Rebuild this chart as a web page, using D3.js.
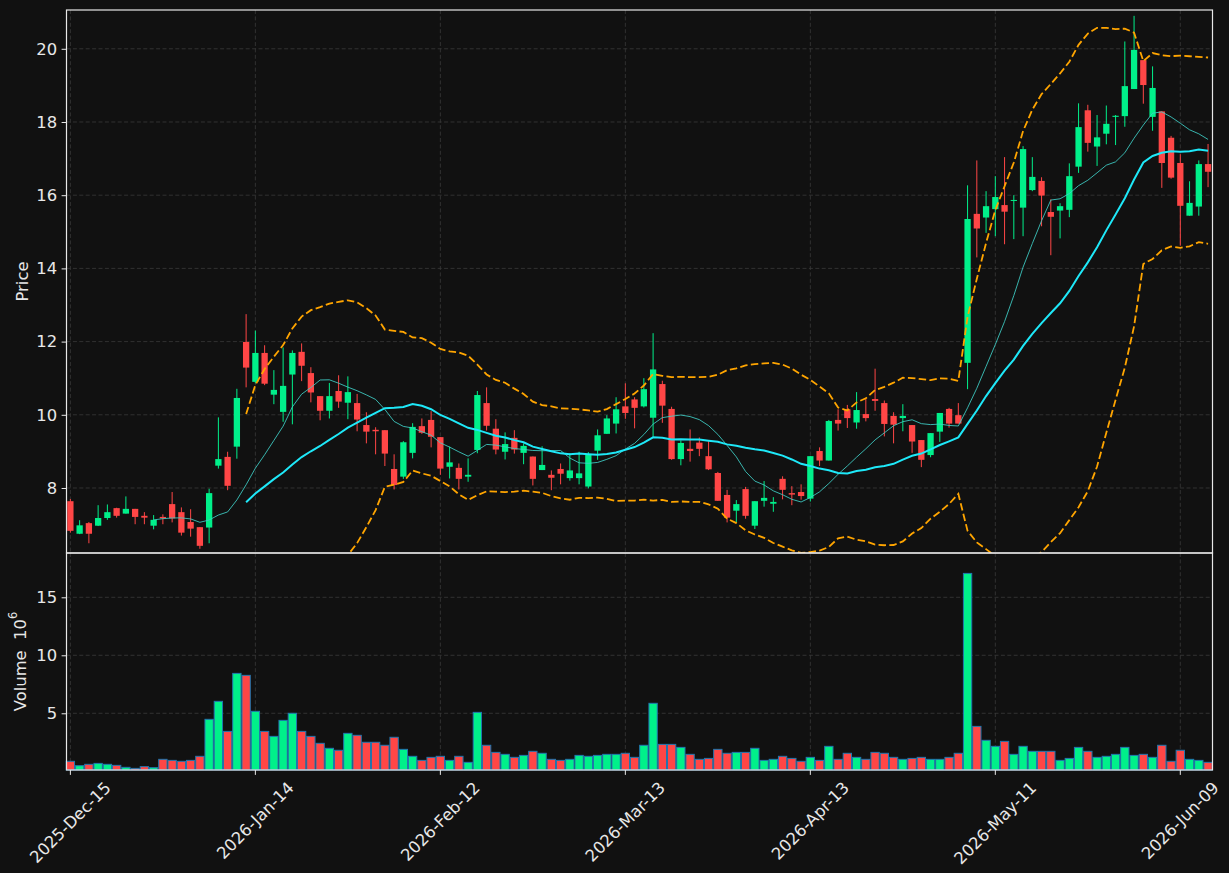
<!DOCTYPE html>
<html>
<head>
<meta charset="utf-8">
<script src="https://cdn.jsdelivr.net/npm/d3@7"></script>
<style>
  body { margin: 0; background: #111111; }
  text { font-family: "DejaVu Sans", sans-serif; }
</style>
</head>
<body>
<svg id="chart" width="1229" height="873"></svg>
<script>
// Daily prices, one entry per trading day
const opens = [
  7.64, 6.75, 7.04, 6.97, 7.18, 7.45, 7.30, 7.43, 7.24, 6.97,
  7.21, 7.56, 7.34, 7.07, 6.93, 6.92, 8.61, 8.85, 9.13, 11.99,
  10.90, 11.69, 10.55, 10.08, 11.10, 11.72, 11.14, 10.51, 10.11, 10.65,
  10.33, 10.32, 9.72, 9.59, 9.58, 8.52, 8.31, 8.96, 9.69, 9.86,
  9.39, 8.58, 8.55, 8.31, 9.04, 10.32, 9.62, 8.99, 9.37, 8.96,
  8.86, 8.49, 8.36, 8.52, 8.27, 8.27, 8.04, 9.02, 9.48, 9.76,
  10.23, 10.42, 10.23, 9.92, 10.84, 10.16, 8.79, 9.07, 9.24, 8.87,
  8.41, 7.81, 7.38, 7.97, 6.97, 7.65, 7.57, 8.25, 7.86, 7.89,
  7.71, 9.01, 8.75, 9.86, 10.15, 9.79, 10.02, 10.43, 10.32, 9.97,
  9.91, 9.72, 9.31, 8.90, 9.54, 10.16, 9.99, 11.42, 15.49, 15.39,
  15.62, 15.73, 15.85, 15.66, 16.14, 16.39, 15.54, 15.58, 15.60, 16.78,
  18.32, 17.33, 17.68, 18.14, 18.16, 18.90, 19.69, 18.14, 18.29, 17.57,
  16.88, 15.44, 15.69, 16.85
];
const highs = [
  7.70, 7.12, 7.07, 7.53, 7.55, 7.46, 7.77, 7.43, 7.34, 7.26,
  7.28, 7.89, 7.47, 7.42, 6.93, 7.98, 9.93, 8.99, 10.71, 12.75,
  12.30, 11.90, 11.22, 11.84, 11.76, 11.95, 11.30, 10.51, 10.87, 11.08,
  11.05, 10.57, 10.07, 9.66, 9.58, 8.92, 9.28, 9.77, 9.90, 10.10,
  9.39, 9.13, 8.67, 8.81, 10.65, 10.75, 9.88, 9.52, 9.58, 9.22,
  8.86, 9.14, 8.48, 8.67, 8.95, 8.99, 8.98, 9.60, 9.99, 10.48,
  10.86, 10.48, 11.00, 12.23, 10.93, 10.22, 9.30, 9.60, 9.38, 9.28,
  8.44, 7.95, 7.67, 8.03, 7.64, 8.19, 7.75, 8.32, 8.05, 8.10,
  8.87, 9.11, 9.86, 10.15, 10.27, 10.62, 10.43, 11.26, 10.39, 10.07,
  10.29, 9.72, 9.31, 9.50, 10.05, 10.19, 10.32, 16.27, 16.95, 16.11,
  16.52, 17.04, 16.00, 17.34, 17.04, 16.49, 15.89, 15.78, 16.87, 18.51,
  18.47, 18.19, 18.45, 18.19, 20.20, 20.90, 19.69, 19.52, 18.29, 17.62,
  17.12, 16.38, 16.95, 17.40
];
const lows = [
  6.78, 6.74, 6.49, 6.96, 7.13, 7.19, 7.30, 7.01, 7.01, 6.87,
  7.01, 7.06, 6.70, 6.67, 6.34, 6.49, 8.53, 7.94, 8.80, 10.75,
  10.86, 10.81, 10.29, 9.81, 9.74, 10.92, 10.34, 9.85, 9.90, 10.19,
  9.88, 9.55, 9.22, 8.92, 8.60, 7.96, 8.25, 8.81, 9.48, 9.11,
  8.36, 8.26, 7.96, 8.17, 8.95, 9.57, 8.92, 8.78, 8.94, 8.65,
  8.07, 8.49, 7.94, 8.10, 8.20, 8.10, 7.99, 8.77, 9.48, 9.49,
  9.89, 9.63, 10.20, 9.40, 9.78, 8.77, 8.62, 8.72, 8.87, 8.49,
  7.65, 7.06, 7.06, 7.16, 6.88, 7.49, 7.35, 7.69, 7.53, 7.68,
  7.63, 8.60, 8.75, 9.57, 9.64, 9.62, 9.82, 10.11, 9.41, 9.22,
  9.55, 8.96, 8.57, 8.84, 9.26, 9.65, 9.76, 10.70, 14.30, 14.97,
  14.88, 14.66, 14.80, 14.88, 16.11, 15.15, 14.36, 14.82, 15.40, 16.61,
  17.19, 16.80, 17.39, 17.37, 17.87, 18.90, 18.50, 17.76, 16.20, 16.45,
  14.62, 15.44, 15.44, 16.22
];
const closes = [
  6.83, 6.98, 6.75, 7.18, 7.34, 7.24, 7.43, 7.21, 7.19, 7.13,
  7.17, 7.17, 6.78, 6.89, 6.42, 7.86, 8.79, 8.06, 10.46, 11.29,
  11.69, 10.85, 10.68, 10.79, 11.69, 11.34, 10.61, 10.11, 10.51, 10.36,
  10.62, 9.87, 9.54, 9.55, 8.94, 8.08, 9.25, 9.67, 9.51, 9.40,
  8.53, 8.70, 8.25, 8.36, 10.54, 9.70, 9.05, 9.20, 9.05, 9.15,
  8.25, 8.63, 8.28, 8.39, 8.48, 8.40, 8.91, 9.44, 9.90, 10.15,
  10.05, 10.19, 10.70, 11.24, 10.25, 8.79, 9.23, 9.01, 9.07, 8.51,
  7.65, 7.19, 7.56, 7.24, 7.64, 7.73, 7.62, 7.95, 7.82, 7.78,
  8.87, 8.75, 9.83, 9.76, 9.91, 10.13, 9.91, 10.38, 9.75, 9.73,
  9.97, 9.27, 8.77, 9.50, 10.05, 9.76, 9.76, 15.35, 15.09, 15.70,
  15.95, 15.55, 15.87, 17.26, 16.50, 15.99, 15.41, 15.70, 16.52, 17.86,
  17.43, 17.58, 17.95, 18.17, 18.98, 19.97, 19.01, 18.93, 16.88, 16.48,
  15.71, 15.79, 16.85, 16.64
];
// Volume in millions
const volumes = [
  0.75, 0.37, 0.49, 0.57, 0.49, 0.40, 0.23, 0.14, 0.29, 0.20,
  0.92, 0.83, 0.75, 0.83, 1.18, 4.37, 5.92, 3.33, 8.33, 8.16,
  5.06, 3.33, 2.90, 4.28, 4.89, 3.33, 2.90, 2.30, 1.87, 1.70,
  3.16, 2.99, 2.39, 2.39, 2.13, 2.82, 1.78, 1.18, 0.83, 1.09,
  1.18, 0.83, 1.18, 0.66, 4.97, 2.13, 1.52, 1.35, 1.09, 1.26,
  1.61, 1.44, 0.92, 0.83, 0.92, 1.26, 1.18, 1.26, 1.35, 1.35,
  1.44, 1.09, 2.13, 5.75, 2.21, 2.21, 1.95, 1.35, 0.92, 1.00,
  1.78, 1.44, 1.52, 1.52, 1.87, 0.83, 0.92, 1.18, 1.00, 0.75,
  1.09, 0.83, 2.04, 0.92, 1.44, 1.09, 0.92, 1.52, 1.44, 1.09,
  0.92, 1.00, 1.09, 0.92, 0.92, 1.09, 1.44, 16.95, 3.76, 2.56,
  2.04, 2.47, 1.35, 2.04, 1.61, 1.61, 1.61, 0.83, 1.00, 1.95,
  1.61, 1.09, 1.18, 1.35, 1.95, 1.26, 1.35, 1.09, 2.13, 0.75,
  1.70, 0.92, 0.83, 0.66
];
// x tick labels, every 20 trading days
const tickIndex = [0, 20, 40, 60, 80, 100, 120];
const tickLabels = ['2025-Dec-15', '2026-Jan-14', '2026-Feb-12', '2026-Mar-13', '2026-Apr-13', '2026-May-11', '2026-Jun-09'];
const priceTicks = [8, 10, 12, 14, 16, 18, 20];
const volumeTicks = [5, 10, 15];

const UP = '#00f08a';
const DOWN = '#ff4646';
const FG = '#e8e8e8';
const GRID = '#3a3a3a';
const FONT = '16.4px';

const svg = d3.select('#chart');
svg.append('rect').attr('width', 1229).attr('height', 873).attr('fill', '#111111');

// Panels
const left = 66.5, right = 1212.5;
const mainTop = 10, mainBottom = 553, volBottom = 770;

const x = d3.scaleLinear().domain([-0.42, 123.48]).range([left, right]);
const yPrice = d3.scaleLinear().domain([6.224, 21.06]).range([mainBottom, mainTop]);
const yVol = d3.scaleLinear().domain([0.11, 18.82]).range([volBottom, mainBottom]);
const step = x(1) - x(0);

// Moving averages and bollinger bands from the closes
function rolling(n, fn) {
    return closes.map((c, i) => {
        if (i < n - 1) return null;
        return fn(closes.slice(i - n + 1, i + 1));
    });
}
const ma10 = rolling(10, w => d3.mean(w));
const ma20 = rolling(20, w => d3.mean(w));
const sd20 = rolling(20, w => {
    const m = d3.mean(w);
    return Math.sqrt(d3.mean(w, v => (v - m) * (v - m)));
});
const bbUpper = ma20.map((m, i) => m === null ? null : m + 2 * sd20[i]);
const bbLower = ma20.map((m, i) => m === null ? null : m - 2 * sd20[i]);

svg.append('defs').append('clipPath').attr('id', 'mainClip')
    .append('rect').attr('x', left).attr('y', mainTop)
    .attr('width', right - left).attr('height', mainBottom - mainTop);

// Grid
function grid(y0, y1, yScale, ticks) {
    const g = svg.append('g')
        .attr('stroke', GRID).attr('stroke-width', 0.8).attr('stroke-dasharray', '4,2.4');
    tickIndex.forEach(i => {
        g.append('line').attr('x1', x(i)).attr('x2', x(i)).attr('y1', y0).attr('y2', y1);
    });
    ticks.forEach(t => {
        g.append('line').attr('x1', left).attr('x2', right).attr('y1', yScale(t)).attr('y2', yScale(t));
    });
}
grid(mainTop, mainBottom, yPrice, priceTicks);
grid(mainBottom, volBottom, yVol, volumeTicks);

// Candles
const idx = d3.range(closes.length);
const candles = svg.append('g').attr('clip-path', 'url(#mainClip)');
candles.selectAll('line.wick')
    .data(idx)
    .enter()
    .append('line')
    .attr('class', 'wick')
    .attr('x1', i => x(i)).attr('x2', i => x(i))
    .attr('y1', i => yPrice(highs[i])).attr('y2', i => yPrice(lows[i]))
    .attr('stroke', i => closes[i] >= opens[i] ? UP : DOWN)
    .attr('stroke-width', 1);
candles.selectAll('rect.body')
    .data(idx)
    .enter()
    .append('rect')
    .attr('class', 'body')
    .attr('x', i => x(i) - step * 0.34)
    .attr('width', step * 0.68)
    .attr('y', i => yPrice(Math.max(opens[i], closes[i])))
    .attr('height', i => Math.max(1, Math.abs(yPrice(opens[i]) - yPrice(closes[i]))))
    .attr('fill', i => closes[i] >= opens[i] ? UP : DOWN);

// Indicator lines
const line = d3.line()
    .defined(d => d !== null)
    .x((d, i) => x(i))
    .y(d => yPrice(d));
const lines = svg.append('g').attr('clip-path', 'url(#mainClip)').attr('fill', 'none');
lines.append('path').attr('d', line(ma10)).attr('stroke', '#3fd0c8').attr('stroke-width', 1).attr('opacity', 0.85);
lines.append('path').attr('d', line(ma20)).attr('stroke', '#1ee8f8').attr('stroke-width', 2);
[bbUpper, bbLower].forEach(band => {
    lines.append('path').attr('d', line(band))
        .attr('stroke', '#ffa500').attr('stroke-width', 1.8).attr('stroke-dasharray', '7.5,3.3');
});

// Volume bars
svg.append('g')
    .selectAll('rect')
    .data(idx)
    .enter()
    .append('rect')
    .attr('x', i => x(i) - step * 0.45)
    .attr('width', step * 0.9)
    .attr('y', i => yVol(volumes[i] + 0.11))
    .attr('height', i => volBottom - yVol(volumes[i] + 0.11))
    .attr('fill', i => closes[i] >= opens[i] ? UP : DOWN)
    .attr('stroke', '#2277b0')
    .attr('stroke-width', 1);

// Frames
[[mainTop, mainBottom], [mainBottom, volBottom]].forEach(([t, b]) => {
    svg.append('rect').attr('x', left).attr('y', t)
        .attr('width', right - left).attr('height', b - t)
        .attr('fill', 'none').attr('stroke', FG).attr('stroke-width', 1.2);
});

// Axes
function styleAxis(g) {
    g.select('.domain').remove();
    g.selectAll('.tick line').attr('stroke', FG).attr('stroke-width', 1);
    g.selectAll('.tick text').attr('fill', FG).style('font-size', FONT)
        .style('font-family', '"DejaVu Sans", sans-serif');
}
svg.append('g')
    .attr('transform', `translate(${left},0)`)
    .call(d3.axisLeft(yPrice).tickValues(priceTicks).tickFormat(d3.format('d')).tickSize(4.9).tickPadding(4.5))
    .call(styleAxis);
svg.append('g')
    .attr('transform', `translate(${left},0)`)
    .call(d3.axisLeft(yVol).tickValues(volumeTicks).tickFormat(d3.format('d')).tickSize(4.9).tickPadding(4.5))
    .call(styleAxis);

// Bottom x ticks with rotated labels
const xg = svg.append('g');
tickIndex.forEach((ti, k) => {
    const tx = x(ti);
    xg.append('line').attr('x1', tx).attr('x2', tx).attr('y1', volBottom).attr('y2', volBottom + 4.9)
        .attr('stroke', FG).attr('stroke-width', 1);
    const t = xg.append('text')
        .attr('fill', FG).style('font-size', FONT)
        .attr('text-anchor', 'middle').attr('dominant-baseline', 'central')
        .text(tickLabels[k]);
    const w = t.node().getComputedTextLength();
    const half = (w + 15) * Math.SQRT1_2 / 2;
    t.attr('transform', `translate(${tx},${volBottom + 9.8 + half}) rotate(-45)`);
});

// Axis titles
svg.append('text')
    .attr('transform', `translate(22,${(mainTop + mainBottom) / 2}) rotate(-90)`)
    .attr('text-anchor', 'middle').attr('dominant-baseline', 'central')
    .attr('fill', FG).style('font-size', FONT)
    .text('Price');
const vt = svg.append('text')
    .attr('transform', `translate(20,${(mainBottom + volBottom) / 2}) rotate(-90)`)
    .attr('text-anchor', 'middle').attr('dominant-baseline', 'central')
    .attr('fill', FG).style('font-size', FONT);
vt.append('tspan').text('Volume\u00a0\u00a010');
vt.append('tspan').attr('dy', -7).style('font-size', '11.5px').text('6');
</script>
</body>
</html>
